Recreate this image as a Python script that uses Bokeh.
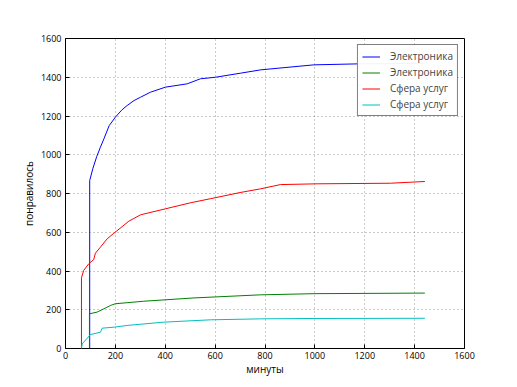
from bokeh.plotting import figure
from bokeh.models import Legend, LegendItem, FixedTicker, Range1d
from bokeh.embed import file_html
from bokeh.resources import INLINE

blue_x = [97, 97, 110, 125, 140, 154, 175, 200, 225, 247, 275, 301, 341, 401, 488, 541, 601, 702, 782, 880, 996, 1170, 1300, 1440]
blue_y = [0, 867, 930, 990, 1039, 1082, 1150, 1194, 1230, 1254, 1280, 1297, 1323, 1349, 1366, 1392, 1400, 1421, 1438, 1450, 1464, 1469, 1470, 1472]

green_x = [96, 96, 127, 154, 180, 200, 314, 515, 782, 1000, 1441]
green_y = [0, 179, 188, 205, 222, 231, 244, 261, 277, 283, 286]

red_x = [64, 64, 73, 93, 113, 120, 140, 167, 194, 254, 301, 401, 501, 581, 700, 782, 862, 1009, 1303, 1441]
red_y = [0, 365, 403, 437, 459, 492, 523, 566, 595, 657, 690, 721, 752, 773, 805, 824, 846, 850, 853, 862]

cyan_x = [64, 67, 100, 140, 147, 194, 247, 394, 581, 782, 1000, 1441]
cyan_y = [0, 24, 72, 84, 105, 110, 119, 136, 148, 153, 155, 156]

labels = ["Электроника", "Электроника", "Сфера услуг", "Сфера услуг"]
colors = ["#0000ff", "#008000", "#ff0000", "#00bfbf"]
ticks = [0, 200, 400, 600, 800, 1000, 1200, 1400, 1600]

FONT = "Open Sans"

W, H = 510, 385
p = figure(width=W, height=H, output_backend="svg", toolbar_location=None,
           x_range=Range1d(0, 1600), y_range=Range1d(0, 1600),
           min_border_left=65, min_border_right=W - 464, min_border_top=38, min_border_bottom=H - 348)

series = [(blue_x, blue_y), (green_x, green_y), (red_x, red_y), (cyan_x, cyan_y)]
items = []
for (xs, ys), c, lab in zip(series, colors, labels):
    r = p.line(xs, ys, line_color=c, line_width=1)
    items.append(LegendItem(label=lab, renderers=[r]))

legend = Legend(items=items, location="top_right", margin=6, padding=4,
                glyph_width=18, glyph_height=13, label_standoff=10, spacing=2,
                label_text_font=FONT, label_text_font_size="10px",
                label_height=13,
                border_line_color="black", border_line_width=1,
                background_fill_color="white")
p.add_layout(legend, "center")

p.outline_line_color = "black"
p.outline_line_width = 1
p.outline_line_alpha = 1

for ax in (p.xaxis[0], p.yaxis[0]):
    ax.ticker = FixedTicker(ticks=ticks)
    ax.axis_line_color = None
    ax.major_tick_in = 4
    ax.major_tick_out = 0
    ax.minor_tick_line_color = None
    ax.major_tick_line_color = "black"
    ax.major_label_text_font = FONT
    ax.major_label_text_font_size = "9px"
    ax.major_label_text_color = "black"
    ax.axis_label_text_font = FONT
    ax.axis_label_text_font_size = "10px"
    ax.axis_label_text_font_style = "normal"
    ax.axis_label_text_color = "black"

p.xaxis[0].axis_label = "минуты"
p.yaxis[0].axis_label = "понравилось"
p.xaxis[0].major_label_standoff = 3
p.xaxis[0].axis_label_standoff = 0
p.yaxis[0].major_label_standoff = 4
p.yaxis[0].axis_label_standoff = 2

p.grid.grid_line_color = "black"
p.grid.grid_line_alpha = 0.6
p.grid.grid_line_dash = "1 3"
p.grid.grid_line_width = 0.7
p.xgrid.ticker = FixedTicker(ticks=ticks)
p.ygrid.ticker = FixedTicker(ticks=ticks)

p.background_fill_color = "white"
p.border_fill_color = "white"

open("out.html", "w").write(file_html(p, INLINE))
